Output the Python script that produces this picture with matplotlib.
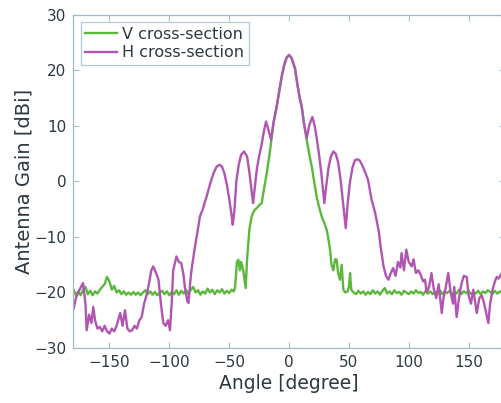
import matplotlib
matplotlib.use('Agg')
import matplotlib.pyplot as plt

# H cross-section (magenta)
h_angle = [-180, -178, -175, -172, -170, -169, -167, -165, -163.5, -162, -160, -158, -156, -154,
           -152, -150, -148, -146, -144, -142, -141, -139, -137, -135, -133, -131, -129, -127,
           -125, -123, -121, -119, -117.5, -115, -113.4, -111, -109, -107, -105, -103, -101,
           -99.4, -98, -96.7, -94, -92, -90, -88, -87, -85, -84, -82, -81, -78.5, -76, -74.4,
           -72, -70, -68.8, -66, -63, -60.4, -58, -56, -54, -52, -50, -48, -47, -45.5, -44, -42,
           -40, -37.5, -35, -33, -31, -30, -28.5, -27, -25, -23, -21, -19.2, -17, -15, -13,
           -10.3, -8, -6.1, -4, -2, 0, 2, 4, 5, 7, 9, 10.6, 12.5, 14.8, 17, 19.5, 21.5, 23, 25,
           27, 29.5, 31, 33, 35, 37, 39, 41, 43, 45, 47.4, 49, 51, 53, 55, 57, 59, 61, 63, 66,
           69, 72, 75, 77, 79, 81, 83, 85, 87, 89, 91, 93, 94, 96, 98, 100, 102.5, 104, 106, 108,
           110, 112, 113.6, 115, 117, 119, 121, 123, 125, 127.6, 129, 131, 133, 135, 137, 138,
           140, 142, 144, 146, 148.4, 150, 152, 154, 156.8, 159, 161, 163, 165, 166.5, 168, 170,
           172, 173.5, 175, 177.7, 180]
h_gain = [-23, -21, -19.5, -18.3, -22, -26.8, -24, -25.5, -22.6, -25, -26.5, -26.2, -27, -26,
          -27, -27.4, -26.5, -27, -26, -24.5, -23.7, -26, -23.2, -26.5, -27, -26.8, -26, -26.5,
          -25, -24.4, -22, -20.5, -19, -16, -15.3, -16.5, -17.7, -22, -25.5, -26, -25,
          -26.8, -22, -16, -13.5, -14.5, -14.7, -17, -19, -21.5, -21.9, -17, -15.3, -11.7, -8.5, -6.3,
          -5, -3.5, -2.7, -0.5, 1.5, 2.7, 3, 2.7, 1.5, -0.5, -3, -6, -7.8, -5, 0, 3,
          4.8, 5.4, 4.5, 1.5, -2, -3.9, -1, 2, 4.5, 6.5, 9, 10.8, 9.2, 7.5, 10.5,
          13.5, 16.5, 18.9, 21, 22.3, 22.8, 22.3, 21, 20.4, 17.5, 15, 13.5, 10.5, 7.8, 10.2, 11.6, 10, 8, 5,
          1.5, -3.9, -1, 2.5, 4.5, 5.4, 5, 3.5, 0.5, -3.5, -8.4, -4, 0, 2.5, 3.8, 4, 3.8, 3, 2, 0.3,
          -3.3, -5.7, -9, -12.5, -15.3, -17, -17.7, -16.5, -15.6, -17, -14.5, -15.5, -12.9, -16, -12.3, -14.5, -15.3, -14, -16.5, -16,
          -16.8, -18, -17.7, -20, -19, -16.5, -19.5, -21, -18.5, -23.7, -21, -19, -16.5, -20, -22, -19,
          -24.4, -21, -18.5, -17, -17.2, -20.5, -22, -19.5, -23.7, -21, -20.5, -22, -24, -25.5, -22, -19.5,
          -18, -17.2, -17.5, -16.5, -16]

# V cross-section (green)
v_angle = [-180, -178, -176, -174, -172, -170, -168, -166, -164, -162, -160, -158, -156, -154,
           -152, -150, -148, -146, -144, -142, -140, -138, -136, -134, -132, -130, -128, -126,
           -124, -122, -120, -118, -116, -114, -112, -110, -108, -106, -104, -102, -100, -98,
           -96, -94, -92, -90, -88, -86, -84, -82, -80, -78, -76, -74, -72, -70, -68, -66, -64,
           -62, -60, -58, -56, -54, -52, -50, -48, -46, -45, -43.5, -42.3, -41, -40, -38.2, -36.2,
           -35, -34, -33, -31.2, -29, -27, -24.5, -22.8, -21, -18.6, -16.5, -15, -13, -10.3, -8,
           -6.1, -4, -2, 0, 2, 4, 5, 7, 9, 10.6, 12.5, 14.8, 17, 19, 21, 23.1, 25, 27.3, 29.5,
           31.5, 33, 34.3, 35.5, 37, 38.5, 39.8, 41, 42.6, 44, 45.4, 47, 49, 50, 51, 52, 54, 56,
           58, 60, 62, 64, 66, 68, 70, 72, 74, 76, 78, 80, 82, 84, 86, 88, 90, 92, 94, 96, 98,
           100, 102, 104, 106, 108, 110, 112, 114, 116, 118, 120, 122, 124, 126, 128, 130, 132,
           134, 136, 138, 140, 142, 144, 146, 148, 150, 152, 154, 156, 158, 160, 162, 164, 166,
           168, 170, 172, 174, 176, 178, 180]
v_gain = [-19.5, -20.5, -19.8, -20.5, -19.5, -19, -20.3, -19.7, -20.5, -19.8, -20.2, -19.5, -19, -18.5,
          -17.2, -18, -19.5, -18.8, -20, -19.6, -20.3, -19.8, -20.4, -20, -20.4, -19.9, -20.4, -20,
          -20.5, -20, -19.6, -20.3, -19.8, -20.4, -19.9, -20.5, -20, -19.7, -20.3, -19.8, -20.5, -19.9,
          -20.3, -19.6, -20.4, -19.7, -20.2, -19.5, -20.3, -19.5, -19, -20, -19.6, -20.4, -19.8, -20.2, -19.3, -20, -19.5,
          -20.3, -19.6, -20, -19.4, -20.2, -19.7, -20.1, -19.5, -19.8, -19, -14.5, -14.1, -16, -14.5, -16, -19.2,
          -14, -11.1, -8.5, -6.3, -5.2, -4.8, -4.2, -3.9, -1.5, 1.5, 4.5, 7, 10.5, 13.5, 16.5,
          18.9, 21, 22.3, 22.8, 22.3, 21, 20.4, 17.5, 15, 13.5, 10.5, 7.5, 4.8, 2.7, 0, -2.7, -4.5, -6.3, -7.5,
          -8.7, -10.5, -12.3, -15, -16, -14, -14.1, -16.5, -17.7, -15, -19.5, -20, -19.8, -19, -16.5, -19.5, -20, -20.3,
          -19.7, -20.2, -19.8, -20.4, -19.9, -20.3, -19.6, -20.2, -19.8, -20.4, -19.7, -19.2, -20.2, -19.8, -20.3, -19.6, -20.1, -19.9, -20.4, -19.7, -20,
          -20.3, -19.8, -20.2, -19.6, -20.1, -19.9, -20.4, -19.7, -20.2, -19.8, -20.3, -19.9, -20.2, -19.6, -20.3, -19.8, -20.1,
          -19.7, -20.3, -19.9, -20.2, -19.5, -20.3, -19.8, -20.1, -19.7, -20.3, -19.9, -20.2, -19.7, -20.3, -19.8, -20.1, -19.6,
          -19.9, -20.3, -19.7, -20.2, -19.8, -20, -20.2]

x_ticks = [-150, -100, -50, 0, 50, 100, 150]
y_ticks = [-30, -20, -10, 0, 10, 20, 30]

spine_col = '#9cbccc'
text_col = '#2b3940'

plt.rcParams['font.family'] = ['DejaVu Sans']

fig = plt.figure(figsize=(5.02, 4.03), dpi=100)
# right edge of the axes sits just past the picture edge, as in the reference
ax = fig.add_axes([0.1464, 0.1365, 0.8586, 0.8263])

ax.plot(v_angle, v_gain, color='#5cb83c', lw=1.7, label='V cross-section')
ax.plot(h_angle, h_gain, color='#b055b2', lw=1.7, label='H cross-section')

ax.set_xlim(-180, 180)
ax.set_ylim(-30, 30)
ax.set_xticks(x_ticks)
ax.set_yticks(y_ticks)
ax.tick_params(direction='in', top=True, right=True, length=4, width=0.8,
               color=spine_col, labelcolor=text_col, labelsize=11, pad=5)
for s in ax.spines.values():
    s.set_color(spine_col)
    s.set_linewidth(0.9)

ax.set_xlabel('Angle [degree]', fontsize=13.5, color=text_col, labelpad=3)
ax.set_ylabel('Antenna Gain [dBi]', fontsize=14, color=text_col, labelpad=1)

leg = ax.legend(loc='upper left', fontsize=11.5, frameon=True, fancybox=False,
                borderpad=0.3, handlelength=2.0, handletextpad=0.3, labelspacing=0.2,
                borderaxespad=0.45)
leg.get_frame().set_edgecolor(spine_col)
leg.get_frame().set_linewidth(0.9)
for t in leg.get_texts():
    t.set_color(text_col)

fig.savefig('out.png', dpi=100)
